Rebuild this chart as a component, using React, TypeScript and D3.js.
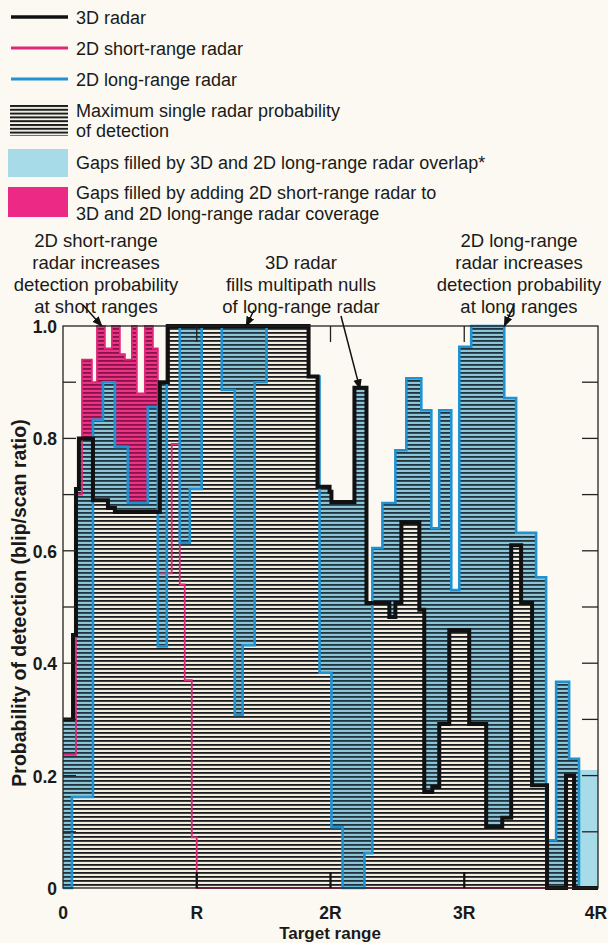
import React from "react";
import * as d3 from "d3";

// ---------- DATA (x in units of R, value = probability; each value holds until the next x) ----------
const radar3D: [number, number][] = [
  [0, 0.3], [0.075, 0.45], [0.097, 0.71], [0.119, 0.8], [0.224, 0.69], [0.336, 0.676], [0.388, 0.669],
  [0.724, 0.9], [0.784, 1.0], [1.836, 0.91], [1.903, 0.714], [1.993, 0.705], [2.007, 0.687], [2.179, 0.89],
  [2.269, 0.507], [2.44, 0.482], [2.485, 0.507], [2.53, 0.651], [2.664, 0.495], [2.701, 0.171], [2.761, 0.18],
  [2.813, 0.292], [2.888, 0.459], [3.037, 0.292], [3.164, 0.109], [3.284, 0.125], [3.351, 0.61], [3.425, 0.507],
  [3.507, 0.183], [3.619, 0], [3.761, 0.2], [3.821, 0],
];

const radar2DShort: [number, number][] = [
  [0, 0.237], [0.097, 0.7], [0.142, 0.94], [0.216, 0.9], [0.254, 1.0], [0.313, 0.96], [0.366, 1.0],
  [0.425, 0.95], [0.463, 0.94], [0.515, 1.0], [0.552, 0.88], [0.612, 1.0], [0.672, 0.96], [0.709, 0.56],
  [0.813, 0.79], [0.873, 0.54], [0.91, 0.37], [0.963, 0.09], [1.0, 0],
];

const radar2DLong: [number, number][] = [
  [0, 0], [0.067, 0.162], [0.224, 0.833], [0.299, 0.9], [0.388, 0.785], [0.485, 0.685], [0.634, 0.856],
  [0.709, 0.43], [0.776, 1.0], [0.873, 0.614], [0.948, 0.71], [1.037, 1.0], [1.187, 0.886], [1.284, 0.308],
  [1.343, 0.432], [1.433, 0.9], [1.522, 1.0], [1.836, 0.91], [1.918, 0.383], [2.007, 0.108], [2.09, 0],
  [2.254, 0.062], [2.313, 0.605], [2.388, 0.685], [2.485, 0.779], [2.567, 0.907], [2.679, 0.85], [2.754, 0.64],
  [2.813, 0.85], [2.903, 0.53], [2.963, 0.963], [3.052, 1.0], [3.299, 0.872], [3.388, 0.632], [3.537, 0.553],
  [3.612, 0.085], [3.687, 0.367], [3.784, 0.23], [3.858, 0],
];

// extra overlap-only gap fill: [xStart, xEnd, value]
const overlapExtra: [number, number, number][] = [[3.858, 4, 0.21]];

const xTickValues = [0, 1, 2, 3, 4];
const xTickLabels = ["0", "R", "2R", "3R", "4R"];
const yTickValues = [0, 0.2, 0.4, 0.6, 0.8, 1.0];
const yTickLabels = ["0", "0.2", "0.4", "0.6", "0.8", "1.0"];
const yMinorTicks = [0.1, 0.2, 0.3, 0.4, 0.5, 0.6, 0.7, 0.8, 0.9];
const innerXTicks = [1, 2, 3];

const legendLines = ["3D radar", "2D short-range radar", "2D long-range radar"];
const legendHatch = ["Maximum single radar probability", "of detection"];
const legendCyan = ["Gaps filled by 3D and 2D long-range radar overlap*"];
const legendPink = ["Gaps filled by adding 2D short-range radar to", "3D and 2D long-range radar coverage"];

const note1 = ["2D short-range", "radar increases", "detection probability", "at short ranges"];
const note2 = ["3D radar", "fills multipath nulls", "of long-range radar"];
const note3 = ["2D long-range", "radar increases", "detection probability", "at long ranges"];

const xTitle = "Target range";
const yTitle = "Probability of detection (blip/scan ratio)";

// ---------- LAYOUT ----------
const W = 608, H = 943;
const M = { left: 63, right: 598, top: 326, bottom: 888 };
const BG = "#fbf9f1";
const C3D = "#111111";
const CSHORT = "#e0287a";
const CLONG = "#1f92d2";
const FONT = "'Liberation Sans', Arial, sans-serif";

type Row = { x: number; a: number; l: number; s: number };

function stepAt(s: [number, number][], xv: number) {
  let v = s[0][1];
  for (const [a, b] of s) {
    if (a <= xv + 1e-9) v = b;
    else break;
  }
  return v;
}

export default function App() {
  const x = d3.scaleLinear().domain([0, 4]).range([M.left, M.right]);
  const y = d3.scaleLinear().domain([0, 1]).range([M.bottom, M.top]);

  const bps = Array.from(
    new Set([...radar3D, ...radar2DLong, ...radar2DShort].map((d) => d[0]).concat([4]))
  ).sort((p, q) => p - q);
  const rows: Row[] = bps.map((b) => ({
    x: b,
    a: stepAt(radar3D, b),
    l: stepAt(radar2DLong, b),
    s: stepAt(radar2DShort, b),
  }));

  const envelope = d3
    .area<Row>()
    .x((d) => x(d.x))
    .y0(y(0))
    .y1((d) => y(Math.max(d.a, d.l, d.s)))
    .curve(d3.curveStepAfter)(rows) as string;

  const cyanArea = d3
    .area<Row>()
    .x((d) => x(d.x))
    .y0((d) => y(Math.min(d.a, d.l)))
    .y1((d) => y(Math.max(d.a, d.l)))
    .curve(d3.curveStepAfter)(rows) as string;

  const pinkArea = d3
    .area<Row>()
    .x((d) => x(d.x))
    .y0((d) => y(Math.max(d.a, d.l)))
    .y1((d) => y(Math.max(d.s, d.a, d.l)))
    .curve(d3.curveStepAfter)(rows) as string;

  const stepLine = (s: [number, number][]) =>
    d3
      .line<[number, number]>()
      .x((d) => x(d[0]))
      .y((d) => y(d[1]))
      .curve(d3.curveStepAfter)([...s, [4, s[s.length - 1][1]]]) as string;

  const hatchOffset = M.bottom % 4;

  const arrows = [
    { x1: 83, y1: 305, x2: x(0.29), y2: y(1.0) },
    { x1: 254, y1: 310, x2: x(1.37), y2: y(1.0) },
    { x1: 341, y1: 316, x2: x(2.22), y2: y(0.89) + 1 },
    { x1: 514, y1: 305, x2: x(3.3), y2: y(1.0) },
  ];

  const LFS = 18;
  const lineRows = [17, 48, 79];

  return (
    <div style={{ position: "absolute", left: 0, top: 0, width: W, height: H, background: BG }}>
      <svg width={W} height={H} style={{ display: "block" }} fontFamily={FONT}>
        <defs>
          <pattern id="hCream" width="8" height="4" y={hatchOffset} patternUnits="userSpaceOnUse">
            <rect width="8" height="4" fill="#f2eee2" />
            <rect y="0" width="8" height="1.8" fill="#1c1c1c" />
          </pattern>
          <pattern id="hCyan" width="8" height="4" y={hatchOffset} patternUnits="userSpaceOnUse">
            <rect width="8" height="4" fill="#8cc6d6" />
            <rect y="0" width="8" height="1.8" fill="#1d3340" />
          </pattern>
          <pattern id="hPink" width="8" height="4" y={hatchOffset} patternUnits="userSpaceOnUse">
            <rect width="8" height="4" fill="#ea3586" />
            <rect y="0" width="8" height="1.8" fill="#8c1049" />
          </pattern>
          <pattern id="hLegend" width="8" height="3.8" y="105" patternUnits="userSpaceOnUse">
            <rect width="8" height="3.8" fill={BG} />
            <rect y="0" width="8" height="2" fill="#1c1c1c" />
          </pattern>
          <marker id="arrowHead" viewBox="0 0 10 10" refX="9" refY="5" markerWidth="7" markerHeight="7" orient="auto">
            <path d="M0,1 L10,5 L0,9 Z" fill="#111" />
          </marker>
        </defs>

        <rect width={W} height={H} fill={BG} />

        {/* Legend */}
        {legendLines.map((t, i) => {
          const ly = lineRows[i];
          const col = [C3D, CSHORT, CLONG][i];
          return (
            <g key={t}>
              <line x1={11} x2={68} y1={ly} y2={ly} stroke={col} strokeWidth={i === 0 ? 3.5 : 3} />
              <text x={76} y={ly + 6.5} fontSize={LFS} fill="#1a1a1a">{t}</text>
            </g>
          );
        })}
        <rect x={10} y={105} width={58} height={31} fill="url(#hLegend)" />
        {legendHatch.map((t, i) => (
          <text key={t} x={76} y={117 + i * 20} fontSize={LFS} fill="#1a1a1a">{t}</text>
        ))}
        <rect x={8} y={149} width={60} height={28} fill="#a8dbe8" />
        {legendCyan.map((t, i) => (
          <text key={t} x={76} y={169 + i * 20} fontSize={LFS} fill="#1a1a1a">{t}</text>
        ))}
        <rect x={8} y={187} width={60} height={30} fill="#ec2a85" />
        {legendPink.map((t, i) => (
          <text key={t} x={76} y={199 + i * 21} fontSize={LFS} fill="#1a1a1a">{t}</text>
        ))}

        {/* Annotations */}
        {note1.map((t, i) => (
          <text key={"n1" + i} x={96} y={247 + i * 22} fontSize={18.5} textAnchor="middle" fill="#1a1a1a">{t}</text>
        ))}
        {note2.map((t, i) => (
          <text key={"n2" + i} x={301} y={269 + i * 22} fontSize={18.5} textAnchor="middle" fill="#1a1a1a">{t}</text>
        ))}
        {note3.map((t, i) => (
          <text key={"n3" + i} x={519} y={247 + i * 22} fontSize={18.5} textAnchor="middle" fill="#1a1a1a">{t}</text>
        ))}

        {/* Plot fills */}
        <path d={envelope} fill="url(#hCream)" />
        <path d={cyanArea} fill="url(#hCyan)" />
        <path d={pinkArea} fill="url(#hPink)" />
        {overlapExtra.map(([a, b, v], i) => (
          <rect key={"ox" + i} x={x(a)} y={y(v)} width={x(b) - x(a)} height={y(0) - y(v)} fill="#a8dbe8" />
        ))}

        {/* Lines */}
        <path d={stepLine(radar2DShort)} fill="none" stroke={CSHORT} strokeWidth={1.8} />
        <path d={stepLine(radar2DLong)} fill="none" stroke={CLONG} strokeWidth={2.6} />
        <path d={stepLine(radar3D)} fill="none" stroke={C3D} strokeWidth={4} strokeLinejoin="miter" />

        {/* Frame and ticks */}
        <rect x={M.left} y={M.top} width={M.right - M.left} height={M.bottom - M.top} fill="none" stroke="#222" strokeWidth={1.3} />
        {yMinorTicks.map((v) => (
          <g key={"yt" + v}>
            <line x1={M.left} x2={M.left + 13} y1={y(v)} y2={y(v)} stroke="#222" strokeWidth={1.3} />
            <line x1={M.right - 16} x2={M.right} y1={y(v)} y2={y(v)} stroke="#222" strokeWidth={1.3} />
          </g>
        ))}
        {innerXTicks.map((v) => (
          <g key={"xt" + v}>
            <line x1={x(v)} x2={x(v)} y1={M.bottom} y2={M.bottom - 16} stroke="#111" strokeWidth={2.2} />
            <line x1={x(v)} x2={x(v)} y1={M.top} y2={M.top + 16} stroke="#222" strokeWidth={1.3} />
          </g>
        ))}

        {/* Axis labels */}
        {yTickValues.map((v, i) => (
          <text key={"yl" + v} x={57} y={y(v) + 7} fontSize={17.5} fontWeight="bold" textAnchor="end" fill="#1a1a1a">
            {yTickLabels[i]}
          </text>
        ))}
        {xTickValues.map((v, i) => (
          <text key={"xl" + v} x={i === 4 ? x(v) - 2 : x(v)} y={919} fontSize={17.5} fontWeight="bold" textAnchor="middle" fill="#1a1a1a">
            {xTickLabels[i]}
          </text>
        ))}
        <text x={330} y={939} fontSize={17} fontWeight="bold" textAnchor="middle" fill="#1a1a1a">{xTitle}</text>
        <text transform="translate(26,603) rotate(-90)" fontSize={19.5} fontWeight="bold" textAnchor="middle" fill="#1a1a1a">{yTitle}</text>

        {/* Arrows */}
        {arrows.map((a, i) => (
          <line key={"ar" + i} x1={a.x1} y1={a.y1} x2={a.x2} y2={a.y2} stroke="#111" strokeWidth={1.5} markerEnd="url(#arrowHead)" />
        ))}
      </svg>
    </div>
  );
}
